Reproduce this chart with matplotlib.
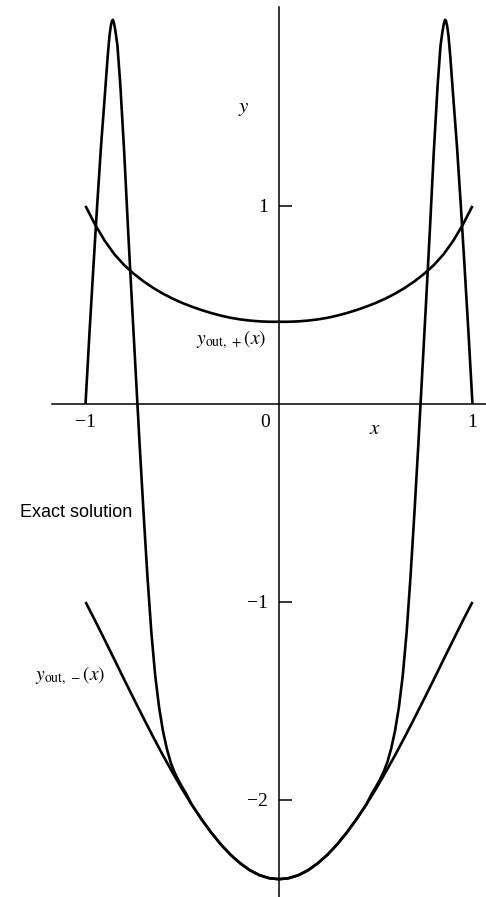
import matplotlib
matplotlib.use("Agg")
import matplotlib.pyplot as plt

plt.rcParams["mathtext.fontset"] = "stix"
plt.rcParams["font.family"] = ["Liberation Serif", "DejaVu Serif"]

# Outer solution on the upper branch
x_out_plus = [-1.0, -0.95, -0.9, -0.85, -0.8, -0.75, -0.7, -0.65, -0.6, -0.55, -0.5,
              -0.45, -0.4, -0.35, -0.3, -0.25, -0.2, -0.15, -0.1, -0.05, 0.0,
              0.05, 0.1, 0.15, 0.2, 0.25, 0.3, 0.35, 0.4, 0.45, 0.5,
              0.55, 0.6, 0.65, 0.7, 0.75, 0.8, 0.85, 0.9, 0.95, 1.0]
y_out_plus = [1.0, 0.905, 0.823, 0.755, 0.701, 0.657, 0.619, 0.586, 0.557, 0.532, 0.510,
              0.491, 0.474, 0.459, 0.446, 0.435, 0.427, 0.421, 0.417, 0.415, 0.415,
              0.415, 0.417, 0.421, 0.427, 0.435, 0.446, 0.459, 0.474, 0.491, 0.510,
              0.532, 0.557, 0.586, 0.619, 0.657, 0.701, 0.755, 0.823, 0.905, 1.0]

# Outer solution on the lower branch
x_out_minus = [-1.0, -0.95, -0.9, -0.85, -0.8, -0.75, -0.7, -0.65, -0.6, -0.55, -0.5,
               -0.45, -0.4, -0.35, -0.3, -0.25, -0.2, -0.15, -0.1, -0.05, 0.0,
               0.05, 0.1, 0.15, 0.2, 0.25, 0.3, 0.35, 0.4, 0.45, 0.5,
               0.55, 0.6, 0.65, 0.7, 0.75, 0.8, 0.85, 0.9, 0.95, 1.0]
y_out_minus = [-1.0, -1.095, -1.193, -1.292, -1.392, -1.49, -1.587, -1.682, -1.774, -1.862, -1.946,
               -2.025, -2.098, -2.165, -2.225, -2.277, -2.32, -2.355, -2.38, -2.395, -2.40,
               -2.395, -2.38, -2.355, -2.32, -2.277, -2.225, -2.165, -2.098, -2.025, -1.946,
               -1.862, -1.774, -1.682, -1.587, -1.49, -1.392, -1.292, -1.193, -1.095, -1.0]

# Exact solution with its boundary-layer spikes near x = -1 and x = 1
x_exact = [-1.0, -0.98, -0.96, -0.94, -0.92, -0.90, -0.885, -0.876, -0.869, -0.863,
           -0.858, -0.852, -0.845, -0.835, -0.82, -0.80, -0.78, -0.76, -0.74, -0.72,
           -0.70, -0.68, -0.66, -0.64, -0.62, -0.60, -0.58, -0.56, -0.54, -0.52,
           -0.50, -0.48, -0.45, -0.4, -0.35, -0.3, -0.25, -0.2, -0.15, -0.1, -0.05, 0.0,
           0.05, 0.1, 0.15, 0.2, 0.25, 0.3, 0.35, 0.4, 0.45, 0.48, 0.50,
           0.52, 0.54, 0.56, 0.58, 0.60, 0.62, 0.64, 0.66, 0.68, 0.70,
           0.72, 0.74, 0.76, 0.78, 0.80, 0.82, 0.835, 0.845, 0.852, 0.858,
           0.863, 0.869, 0.876, 0.885, 0.90, 0.92, 0.94, 0.96, 0.98, 1.0]
y_exact = [0.0, 0.35, 0.68, 1.00, 1.30, 1.56, 1.76, 1.86, 1.91, 1.935,
           1.94, 1.92, 1.88, 1.81, 1.61, 1.27, 0.88, 0.51, 0.15, -0.21,
           -0.55, -0.87, -1.15, -1.37, -1.53, -1.65, -1.74, -1.81, -1.86, -1.90,
           -1.935, -1.968, -2.025, -2.098, -2.165, -2.225, -2.277, -2.32, -2.355, -2.38, -2.395, -2.40,
           -2.395, -2.38, -2.355, -2.32, -2.277, -2.225, -2.165, -2.098, -2.025, -1.968, -1.935,
           -1.90, -1.86, -1.81, -1.74, -1.65, -1.53, -1.37, -1.15, -0.87, -0.55,
           -0.21, 0.15, 0.51, 0.88, 1.27, 1.61, 1.81, 1.88, 1.92, 1.94,
           1.935, 1.91, 1.86, 1.76, 1.56, 1.30, 1.00, 0.68, 0.35, 0.0]

y_ticks = [-2, -1, 1]
y_tick_labels = ["\u22122", "\u22121", "1"]
x_ticks = [-1, 1]
x_tick_labels = ["\u22121", "1"]

fig = plt.figure(figsize=(4.86, 8.97), dpi=100)
ax = fig.add_axes([0, 0, 1, 1])
ax.set_xlim(-1.442, 1.070)
ax.set_ylim(-2.490, 2.040)

line_kw = dict(color="black", lw=1.9, solid_capstyle="butt", solid_joinstyle="round")
ax.plot(x_out_plus, y_out_plus, **line_kw)
ax.plot(x_out_minus, y_out_minus, **line_kw)
ax.plot(x_exact, y_exact, **line_kw)

# Coordinate axes through the origin
for side in ("top", "right"):
    ax.spines[side].set_visible(False)
ax.spines["left"].set_position(("data", 0))
ax.spines["bottom"].set_position(("data", 0))
ax.spines["left"].set_bounds(-2.49, 2.005)
ax.spines["bottom"].set_bounds(-1.173, 1.07)
for side in ("left", "bottom"):
    ax.spines[side].set_linewidth(1.1)
ax.patch.set_visible(False)

ax.set_yticks(y_ticks)
ax.set_yticklabels(y_tick_labels)
ax.tick_params(axis="y", direction="in", length=9.5, width=1.1, pad=8, labelsize=14)
ax.set_xticks(x_ticks)
ax.set_xticklabels(x_tick_labels)
ax.tick_params(axis="x", length=0, pad=7, labelsize=14)

ax.annotate("0", xy=(0, 0), xytext=(-10, -7), textcoords="offset points",
            ha="center", va="top", fontsize=14)
ax.text(-0.18, 1.49, "$y$", fontsize=15, ha="center", va="center")
ax.text(0.496, -0.13, "$x$", fontsize=15, ha="center", va="center")

ax.text(-0.248, 0.323, r"$y_{\mathrm{out},\,+}(x)$", fontsize=14, ha="center", va="center")
ax.text(-1.08, -1.37, r"$y_{\mathrm{out},\,-}(x)$", fontsize=14, ha="center", va="center")
ax.text(-1.05, -0.55, "Exact solution", fontsize=13, ha="center", va="center",
        family=["Liberation Sans", "DejaVu Sans"])

fig.savefig("out.png", dpi=100, facecolor="white")
